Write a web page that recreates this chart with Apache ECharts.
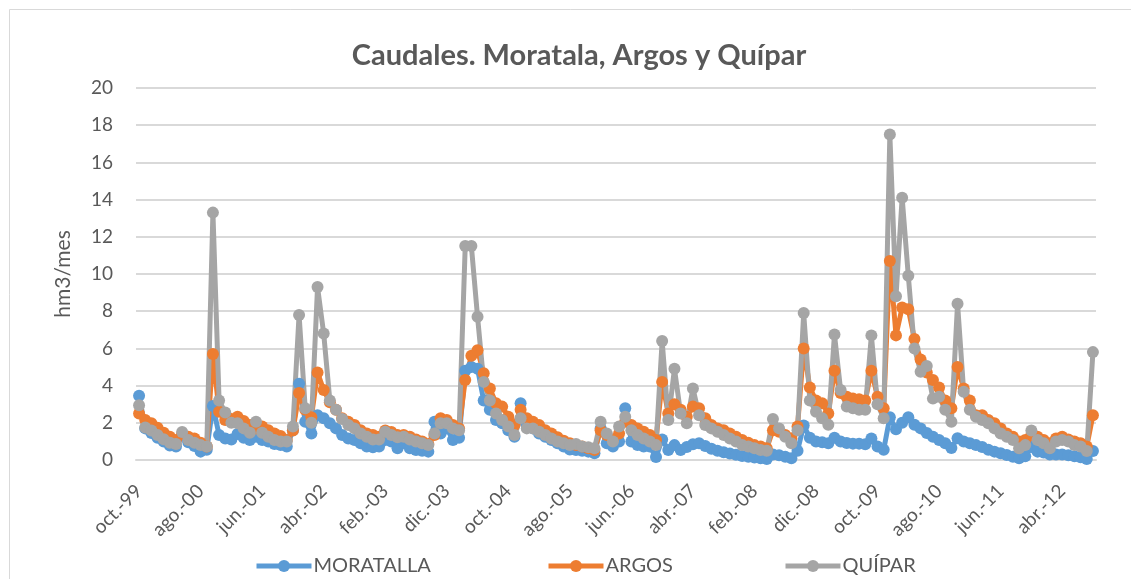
<!DOCTYPE html>
<html>
<head>
<meta charset="utf-8">
<title>Caudales</title>
<script src="https://cdn.jsdelivr.net/npm/echarts@6/dist/echarts.min.js"></script>
<style>
  html, body { margin: 0; padding: 0; background: #fff; }
  #chart { width: 1131px; height: 579px; }
</style>
</head>
<body>
<div id="chart"></div>
<script>
// meses (oct.-99 ... sep.-12)
const monthNames = ['ene.', 'feb.', 'mar.', 'abr.', 'may.', 'jun.', 'jul.', 'ago.', 'sep.', 'oct.', 'nov.', 'dic.']
const startYear = 1999
const startMonth = 9   // octubre
const nMonths = 156

const categories = []
for (let i = 0; i < nMonths; i++) {
  const m = (startMonth + i) % 12
  const y = startYear + Math.floor((startMonth + i) / 12)
  categories.push(monthNames[m] + '-' + String(y % 100).padStart(2, '0'))
}

const yTicks = [0, 2, 4, 6, 8, 10, 12, 14, 16, 18, 20]

// hm3/mes
const moratalla = [
  3.46, 1.7, 1.45, 1.2, 1.0, 0.78, 0.72, 1.3, 0.95, 0.75, 0.45, 0.55,
  2.9, 1.35, 1.15, 1.1, 1.4, 1.2, 1.08, 1.25, 1.08, 1.0, 0.86, 0.8,
  0.72, 1.6, 4.1, 2.06, 1.43, 2.4, 2.24, 1.97, 1.7, 1.34, 1.16, 1.08,
  0.9, 0.72, 0.68, 0.72, 1.08, 0.99, 0.63, 0.9, 0.63, 0.54, 0.5, 0.45,
  2.06, 1.43, 1.7, 1.08, 1.2, 4.8, 5.0, 4.9, 3.2, 2.7, 2.15, 1.97,
  1.6, 1.25, 3.05, 1.88, 1.7, 1.43, 1.25, 1.07, 0.9, 0.72, 0.57, 0.54,
  0.5, 0.45, 0.36, 1.7, 0.9, 0.72, 1.0, 2.78, 1.0, 0.8, 0.72, 0.72,
  0.16, 1.1, 0.54, 0.8, 0.54, 0.7, 0.85, 0.9, 0.75, 0.6, 0.5, 0.42,
  0.35, 0.28, 0.22, 0.18, 0.14, 0.1, 0.06, 0.3, 0.25, 0.18, 0.1, 0.5,
  1.85, 1.2, 1.0, 0.95, 0.9, 1.2, 1.0, 0.92, 0.88, 0.88, 0.85, 1.15,
  0.72, 0.55, 2.3, 1.65, 2.0, 2.3, 1.9, 1.7, 1.45, 1.25, 1.07, 0.9,
  0.65, 1.17, 1.0, 0.9, 0.8, 0.7, 0.55, 0.45, 0.36, 0.27, 0.18, 0.1,
  0.2, 0.7, 0.45, 0.4, 0.3, 0.3, 0.3, 0.25, 0.2, 0.15, 0.05, 0.48
]

const argos = [
  2.5, 2.15, 1.97, 1.74, 1.47, 1.25, 1.07, 1.4, 1.25, 1.16, 0.93, 0.72,
  5.7, 2.6, 2.15, 2.2, 2.33, 2.1, 1.88, 1.7, 1.8, 1.6, 1.43, 1.29,
  1.07, 1.58, 3.6, 2.7, 2.3, 4.7, 3.76, 3.1, 2.7, 2.24, 2.06, 1.88,
  1.6, 1.43, 1.34, 1.25, 1.58, 1.5, 1.34, 1.34, 1.25, 1.1, 1.0, 0.86,
  1.34, 2.24, 2.15, 1.88, 1.7, 4.3, 5.6, 5.9, 4.66, 3.85, 3.05, 2.87,
  2.33, 1.88, 2.7, 2.24, 2.06, 1.88, 1.6, 1.43, 1.22, 1.04, 0.9, 0.8,
  0.72, 0.63, 0.54, 1.6, 1.34, 1.07, 1.43, 2.06, 1.88, 1.7, 1.52, 1.34,
  1.07, 4.2, 2.5, 3.0, 2.7, 2.33, 2.87, 2.78, 2.24, 1.88, 1.7, 1.6,
  1.43, 1.25, 1.07, 0.93, 0.8, 0.72, 0.63, 1.6, 1.52, 1.34, 1.16, 1.8,
  6.0, 3.9, 3.2, 3.05, 2.5, 4.8, 3.6, 3.4, 3.3, 3.26, 3.2, 4.8,
  3.4, 2.78, 10.7, 6.7, 8.2, 8.1, 6.5, 5.4, 4.7, 4.3, 3.9, 3.2,
  2.78, 5.0, 3.85, 3.2, 2.4, 2.4, 2.15, 1.97, 1.7, 1.43, 1.25, 1.0,
  1.07, 1.34, 1.25, 1.07, 0.9, 1.16, 1.25, 1.1, 1.0, 0.9, 0.72, 2.4
]

const quipar = [
  2.94, 1.75, 1.58, 1.35, 1.11, 0.93, 0.86, 1.5, 1.07, 0.93, 0.8, 0.72,
  13.3, 3.2, 2.55, 2.0, 1.97, 1.7, 1.47, 2.06, 1.47, 1.25, 1.07, 0.99,
  0.99, 1.8, 7.8, 2.78, 2.0, 9.3, 6.8, 3.2, 2.7, 2.2, 1.88, 1.7,
  1.43, 1.25, 1.1, 1.1, 1.52, 1.34, 1.22, 1.25, 1.1, 1.0, 0.9, 0.8,
  1.43, 1.97, 1.97, 1.7, 1.6, 11.5, 11.5, 7.7, 4.2, 3.2, 2.5, 2.15,
  1.8, 1.34, 2.24, 1.7, 1.7, 1.52, 1.34, 1.16, 0.99, 0.9, 0.8, 0.86,
  0.72, 0.68, 0.63, 2.06, 1.43, 1.0, 1.8, 2.33, 1.6, 1.34, 1.16, 1.0,
  0.8, 6.4, 2.15, 4.9, 2.5, 1.97, 3.85, 2.4, 1.88, 1.7, 1.52, 1.34,
  1.16, 1.0, 0.8, 0.72, 0.63, 0.54, 0.5, 2.2, 1.7, 1.25, 0.9, 1.6,
  7.9, 3.2, 2.6, 2.25, 1.9, 6.75, 3.76, 2.87, 2.78, 2.7, 2.7, 6.7,
  3.0, 2.24, 17.5, 8.8, 14.1, 9.9, 6.0, 4.75, 5.05, 3.3, 3.4, 2.7,
  2.06, 8.4, 3.67, 2.7, 2.33, 2.15, 1.97, 1.7, 1.43, 1.25, 1.07, 0.63,
  0.8, 1.58, 1.07, 0.9, 0.63, 1.0, 1.07, 1.0, 0.8, 0.72, 0.48, 5.8
]

const seriesNames = ['MORATALLA', 'ARGOS', 'QUÍPAR']
const seriesColors = ['#5B9BD5', '#ED7D31', '#A5A5A5']

const textColor = '#595959'
const gridColor = '#D9D9D9'
const fontFam = 'Lato, "Open Sans", sans-serif'

const chart = echarts.init(document.getElementById('chart'))

function lineSeries(name, data, color) {
  return {
    name: name,
    type: 'line',
    data: data,
    symbol: 'circle',
    symbolSize: 12,
    showAllSymbol: true,
    lineStyle: { width: 5, color: color },
    itemStyle: { color: color },
    emphasis: { disabled: true },
    animation: false
  }
}

// una leyenda por serie para colocarlas como en el original
const legendLeft = [249, 541, 778]
const legends = seriesNames.map((name, i) => ({
  left: legendLeft[i],
  top: 551,
  itemWidth: 55,
  itemHeight: 15,
  lineStyle: { width: 5 },
  textStyle: { fontFamily: fontFam, fontSize: 20, color: textColor, padding: [0, 0, 0, -3] },
  data: [name]
}))

chart.setOption({
  backgroundColor: '#fff',
  animation: false,
  title: {
    text: 'Caudales. Moratala, Argos y Quípar',
    left: 574,
    top: 36,
    textAlign: 'center',
    textStyle: { fontFamily: fontFam, fontSize: 29, fontWeight: 'bold', color: textColor }
  },
  graphic: [{
    type: 'rect',
    shape: { x: 9.5, y: 9.5, width: 1140, height: 600 },
    style: { fill: 'none', stroke: '#D9D9D9', lineWidth: 1 },
    silent: true
  }],
  grid: { left: 136, right: 35, top: 88, bottom: 119 },
  legend: legends,
  xAxis: {
    type: 'category',
    data: categories,
    boundaryGap: true,
    axisLine: { lineStyle: { color: gridColor, width: 2 } },
    axisTick: { show: false },
    axisLabel: {
      interval: 9,
      rotate: 45,
      margin: 28,
      fontFamily: fontFam,
      fontSize: 19,
      color: textColor
    }
  },
  yAxis: {
    type: 'value',
    min: yTicks[0],
    max: yTicks[yTicks.length - 1],
    interval: yTicks[1] - yTicks[0],
    name: 'hm3/mes',
    nameLocation: 'middle',
    nameGap: 62,
    nameTextStyle: { fontFamily: fontFam, fontSize: 21, color: textColor },
    axisLine: { show: false },
    axisTick: { show: false },
    axisLabel: { margin: 23, fontFamily: fontFam, fontSize: 19, color: textColor },
    splitLine: { lineStyle: { color: gridColor, width: 2 } }
  },
  series: seriesNames.map((name, i) =>
    lineSeries(name, [moratalla, argos, quipar][i], seriesColors[i]))
})
</script>
</body>
</html>
